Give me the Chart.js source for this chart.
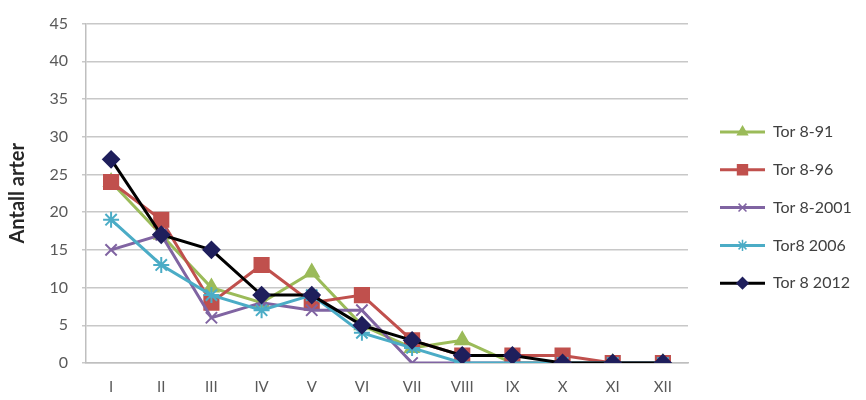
<!DOCTYPE html>
<html lang="no">
<head>
    <meta charset="UTF-8">
    <title>Antall arter - Tor 8</title>
    <script src="https://cdn.jsdelivr.net/npm/chart.js"></script>
    <style>
        html, body {
            margin: 0;
            padding: 0;
            background: #ffffff;
        }
        .chart-container {
            width: 866px;
            height: 400px;
            position: relative;
        }
    </style>
</head>
<body>
    <div class="chart-container">
        <canvas id="arterChart"></canvas>
    </div>

    <script>
        // Categories (x axis)
        const categories = ['I', 'II', 'III', 'IV', 'V', 'VI', 'VII', 'VIII', 'IX', 'X', 'XI', 'XII'];

        // Series values
        const tor8_91   = [24, 17, 10, 8, 12, 5, 2, 3, 0, 0, 0, 0];
        const tor8_96   = [24, 19, 8, 13, 8, 9, 3, 1, 1, 1, 0, 0];
        const tor8_2001 = [15, 17, 6, 8, 7, 7, 0, 0, 0, 0, 0, 0];
        const tor8_2006 = [19, 13, 9, 7, 9, 4, 2, 0, 0, 0, 0, 0];
        const tor8_2012 = [27, 17, 15, 9, 9, 5, 3, 1, 1, 0, 0, 0];

        // Y axis ticks
        const yMin = 0;
        const yMax = 45;
        const yStep = 5;

        const legendNames = ['Tor 8-91', 'Tor 8-96', 'Tor 8-2001', 'Tor8 2006', 'Tor 8 2012'];

        function series(label, data, color, pointStyle, radius, order, pointColor, lineWidth) {
            return {
                label: label,
                data: data,
                borderColor: color,
                backgroundColor: pointColor || color,
                pointBackgroundColor: pointColor || color,
                pointBorderColor: pointColor || color,
                pointStyle: pointStyle,
                pointRadius: radius,
                pointBorderWidth: 2,
                borderWidth: lineWidth || 3,
                tension: 0,
                fill: false,
                order: order
            };
        }

        const datasets = [
            series(legendNames[0], tor8_91, '#9BBB59', 'triangle', 8, 5),
            series(legendNames[1], tor8_96, '#C0504D', 'rect', 10, 4),
            series(legendNames[2], tor8_2001, '#8064A2', 'crossRot', 8, 3),
            series(legendNames[3], tor8_2006, '#4BACC6', 'star', 8, 2),
            series(legendNames[4], tor8_2012, '#000000', 'rectRot', 8, 1, '#1F1F5C', 3)
        ];

        // Legend drawn by hand to get Excel-style line + marker swatches
        const sideLegend = {
            id: 'sideLegend',
            afterDraw(chart) {
                const ctx = chart.ctx;
                const x0 = 720, x1 = 765, top = 132, gap = 37.8;
                ctx.save();
                chart.data.datasets.forEach((ds, i) => {
                    const y = top + i * gap;
                    ctx.strokeStyle = ds.borderColor;
                    ctx.lineWidth = 3;
                    ctx.beginPath();
                    ctx.moveTo(x0, y);
                    ctx.lineTo(x1, y);
                    ctx.stroke();
                    ctx.fillStyle = ds.pointBackgroundColor;
                    ctx.strokeStyle = ds.pointBorderColor;
                    ctx.lineWidth = 1.5;
                    Chart.helpers.drawPoint(ctx, {
                        pointStyle: ds.pointStyle,
                        radius: ds.pointRadius * 0.7,
                        rotation: 0,
                        borderWidth: 1.5
                    }, (x0 + x1) / 2, y);
                    ctx.fillStyle = '#404040';
                    ctx.font = '16px Lato';
                    ctx.textBaseline = 'middle';
                    ctx.textAlign = 'left';
                    ctx.fillText(ds.label, 773, y);
                });
                ctx.restore();
            }
        };

        new Chart(document.getElementById('arterChart').getContext('2d'), {
            type: 'line',
            data: {
                labels: categories,
                datasets: datasets
            },
            options: {
                responsive: true,
                maintainAspectRatio: false,
                animation: false,
                layout: {
                    padding: { left: 6, right: 178, top: 21, bottom: 0 }
                },
                plugins: {
                    legend: { display: false },
                    tooltip: { enabled: false }
                },
                scales: {
                    x: {
                        offset: true,
                        grid: { display: false, drawTicks: false },
                        border: { display: true, color: '#bfbfbf', width: 1.5 },
                        ticks: {
                            color: '#595959',
                            font: { family: 'Lato', size: 15 },
                            padding: 15,
                            maxRotation: 0
                        },
                        afterFit(scale) { scale.height = 37; }
                    },
                    y: {
                        min: yMin,
                        max: yMax,
                        ticks: {
                            stepSize: yStep,
                            color: '#595959',
                            font: { family: 'Lato', size: 16 },
                            padding: 14
                        },
                        grid: {
                            color: '#c8c8c8',
                            lineWidth: 1.5,
                            tickLength: 4
                        },
                        border: { display: true, color: '#bfbfbf', width: 1.5 },
                        title: {
                            display: true,
                            text: 'Antall arter',
                            color: '#262626',
                            font: { family: 'Lato', size: 20, weight: 'bold' },
                            padding: { top: 0, bottom: 0 }
                        },
                        afterFit(scale) { scale.width = 80; }
                    }
                }
            },
            plugins: [sideLegend]
        });
    </script>
</body>
</html>
